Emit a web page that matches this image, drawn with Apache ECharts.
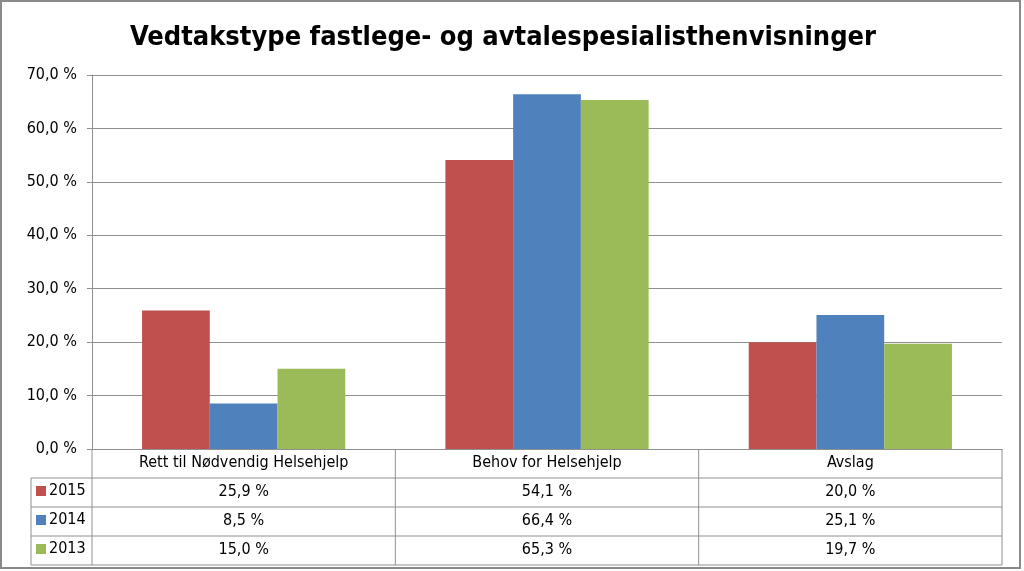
<!DOCTYPE html>
<html><head><meta charset="utf-8">
<script src="https://cdn.jsdelivr.net/npm/echarts@6/dist/echarts.min.js"></script>
<style>html,body{margin:0;padding:0;background:#fff}#c{width:1024px;height:571px}</style>
</head><body><div id="c"></div>
<script>
const title = 'Vedtakstype fastlege- og avtalespesialisthenvisninger';
const categories = ['Rett til Nødvendig Helsehjelp', 'Behov for Helsehjelp', 'Avslag'];
const seriesNames = ['2015', '2014', '2013'];
const v2015 = [25.9, 54.1, 20.0];
const v2014 = [8.5, 66.4, 25.1];
const v2013 = [15.0, 65.3, 19.7];
const yTicks = [0, 10, 20, 30, 40, 50, 60, 70];

const FONT = '"Liberation Sans Narrow", "DejaVu Sans Condensed", "Liberation Sans", sans-serif';
const colors = ['#C0504D', '#4F81BD', '#9BBB59'];
const L = {left: 92, right: 1002, top: 75, bottom: 449, rowH: 29, tableLeft: 31};
const fmt = v => v.toFixed(1).replace('.', ',') + ' %';
const allVals = [v2015, v2014, v2013];

const chart = echarts.init(document.getElementById('c'));
const xAxes = [{
  type: 'category', data: categories, gridIndex: 0, position: 'bottom',
  axisLine: {show: true, lineStyle: {color: '#909090'}}, axisTick: {show: false},
  axisLabel: {color: '#000', fontFamily: FONT, fontSize: 16, margin: 6}
}];
allVals.forEach((arr, i) => {
  xAxes.push({
    type: 'category', data: arr.map(fmt), gridIndex: 0, position: 'bottom', offset: L.rowH * (i + 1),
    axisLine: {show: false}, axisTick: {show: false},
    axisLabel: {color: '#000', fontFamily: FONT, fontSize: 16, margin: 6}
  });
});

const graphics = [];
const line = (x1, y1, x2, y2) => graphics.push({type: 'line', shape: {x1, y1, x2, y2}, style: {stroke: '#909090', lineWidth: 1}, silent: true});
for (let r = 1; r <= 4; r++) line(L.tableLeft, L.bottom + r * L.rowH, L.right, L.bottom + r * L.rowH);
const colW = (L.right - L.left) / categories.length;
for (let c = 0; c <= categories.length; c++) line(L.left + c * colW, L.bottom, L.left + c * colW, L.bottom + 4 * L.rowH);
line(L.tableLeft, L.bottom + L.rowH, L.tableLeft, L.bottom + 4 * L.rowH);
graphics.push({type: 'rect', shape: {x: 1, y: 1, width: 1019, height: 567}, style: {fill: 'none', stroke: '#8a8a8a', lineWidth: 2}, silent: true});

chart.setOption({
  animation: false,
  backgroundColor: '#fff',
  color: colors,
  title: {text: title, left: 130, top: 24, padding: 0, textStyle: {fontFamily: FONT, fontSize: 27, fontWeight: 'bold', color: '#000'}},
  legend: {
    orient: 'vertical', left: 36, top: L.bottom + L.rowH + 5, padding: 0, itemWidth: 10, itemHeight: 10, itemGap: 13,
    icon: 'rect', data: seriesNames, textStyle: {fontFamily: FONT, fontSize: 16, color: '#000', padding: [0, 0, 0, -2]}
  },
  grid: {left: L.left, right: 1024 - L.right, top: L.top, bottom: 571 - L.bottom, containLabel: false},
  xAxis: xAxes,
  yAxis: {
    type: 'value', min: yTicks[0], max: yTicks[yTicks.length - 1], interval: 10,
    axisLine: {show: true, lineStyle: {color: '#909090'}},
    axisTick: {show: true, length: 5, lineStyle: {color: '#909090'}},
    splitLine: {show: true, lineStyle: {color: '#909090'}},
    axisLabel: {formatter: fmt, color: '#000', fontFamily: FONT, fontSize: 16, margin: 15}
  },
  series: seriesNames.map((n, i) => ({
    name: n, type: 'bar', data: allVals[i], xAxisIndex: 0,
    barGap: '0%', barCategoryGap: '33%'
  })),
  graphic: graphics
});
</script></body></html>
